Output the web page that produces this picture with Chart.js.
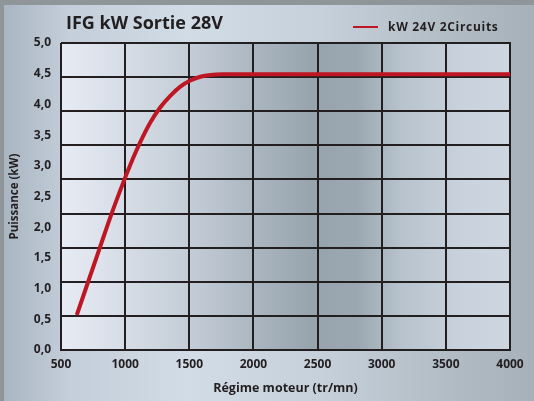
<!DOCTYPE html>
<html>
<head>
<meta charset="utf-8">
<script src="https://cdn.jsdelivr.net/npm/chart.js@4/dist/chart.umd.min.js"></script>
<style>
html,body{margin:0;padding:0;}
body{width:534px;height:401px;overflow:hidden;background:#8f9599;position:relative;}
#panel{position:absolute;left:4px;top:5px;width:530px;height:396px;
background:linear-gradient(90deg,#a9b5c0 0%,#c3ceda 12%,#d2dce6 35%,#c6d0da 60%,#b0bbc4 85%,#a6b1b9 100%);}
canvas{position:absolute;left:0;top:0;}
</style>
</head>
<body>
<div id="panel"></div>
<canvas id="c" width="534" height="401"></canvas>
<script>
const titleText = "IFG kW Sortie 28V";
const seriesLabel = "kW 24V 2Circuits";
const rpm = [623, 805, 896, 982, 1039, 1117, 1195, 1273, 1352, 1430, 1508, 1586, 1664, 1766, 2000, 2500, 3000, 3500, 4000];
const power = [0.57, 1.68, 2.23, 2.71, 3.01, 3.38, 3.70, 3.95, 4.14, 4.29, 4.39, 4.45, 4.48, 4.49, 4.49, 4.49, 4.49, 4.49, 4.49];
const xTicks = [500, 1000, 1500, 2000, 2500, 3000, 3500, 4000];
const yTicks = [0, 0.5, 1, 1.5, 2, 2.5, 3, 3.5, 4, 4.5, 5];

const FONT = "'Open Sans', 'DejaVu Sans', sans-serif";
const DARK = "#231f20";
const RED = "#be1622";

const bgPlugin = {
  id: 'plotBg',
  beforeDraw(chart) {
    const {ctx, chartArea: a} = chart;
    const g = ctx.createLinearGradient(a.left, 0, a.right, 0);
    g.addColorStop(0, '#e7ebf3');
    g.addColorStop(0.15, '#d5dce6');
    g.addColorStop(0.3, '#c2cbd5');
    g.addColorStop(0.45, '#a8b3bd');
    g.addColorStop(0.56, '#97a4ad');
    g.addColorStop(0.66, '#9ba8b1');
    g.addColorStop(0.76, '#b8c3cd');
    g.addColorStop(0.9, '#cad3dd');
    g.addColorStop(1, '#cdd6e0');
    ctx.save();
    ctx.fillStyle = g;
    ctx.fillRect(a.left, a.top, a.right - a.left, a.bottom - a.top);
    ctx.restore();
  },
  afterDraw(chart) {
    const ctx = chart.ctx;
    const ds = chart.data.datasets[0];
    ctx.save();
    ctx.fillStyle = DARK;
    ctx.textBaseline = 'middle';
    ctx.textAlign = 'left';
    ctx.font = "bold 18px " + FONT;
    ctx.fillText(titleText, 66, 24);
    ctx.strokeStyle = ds.borderColor;
    ctx.lineWidth = 2;
    ctx.beginPath();
    ctx.moveTo(353, 27);
    ctx.lineTo(378, 27);
    ctx.stroke();
    ctx.font = "bold 12px " + FONT;
    try { ctx.letterSpacing = '0.7px'; } catch (e) {}
    ctx.fillText(ds.label, 388, 28);
    ctx.restore();
  }
};

new Chart(document.getElementById('c'), {
  type: 'line',
  data: {
    datasets: [{
      label: seriesLabel,
      data: rpm.map((r, i) => ({x: r, y: power[i]})),
      borderColor: RED,
      borderWidth: 4,
      pointRadius: 0,
      cubicInterpolationMode: 'monotone',
      fill: false,
      yAxisID: 'y'
    }]
  },
  options: {
    responsive: false,
    animation: false,
    events: [],
    layout: {padding: {top: 43, right: 24, left: 0, bottom: 0}},
    plugins: {legend: {display: false}, title: {display: false}, tooltip: {enabled: false}},
    scales: {
      x: {
        type: 'linear', min: 500, max: 4000,
        afterBuildTicks: s => { s.ticks = xTicks.map(v => ({value: v})); },
        afterFit: s => { s.height = 51; },
        grid: {color: DARK, lineWidth: 2, drawTicks: false},
        border: {display: true, color: DARK, width: 2},
        ticks: {color: DARK, font: {family: FONT, size: 12, weight: 'bold'}, padding: 7, maxRotation: 0, callback: v => String(v)},
        title: {display: true, text: 'Régime moteur (tr/mn)', color: DARK, font: {family: FONT, size: 12.5, weight: 'bold'}, padding: {top: 0, bottom: 5}}
      },
      y: {
        type: 'linear', position: 'left', min: 0, max: 5,
        afterBuildTicks: s => { s.ticks = yTicks.map(v => ({value: v})); },
        afterFit: s => { s.width = 61; },
        grid: {display: false, drawTicks: false},
        border: {display: false},
        ticks: {color: DARK, font: {family: FONT, size: 12, weight: 'bold'}, padding: 10, callback: v => v.toFixed(1).replace('.', ',')},
        title: {display: true, text: 'Puissance (kW)', color: DARK, font: {family: FONT, size: 11.5, weight: 'bold'}, padding: {top: 8, bottom: 0}}
      },
      yg: {
        type: 'linear', position: 'right', min: 0, max: 9,
        ticks: {display: false, stepSize: 1},
        afterFit: s => { s.width = 0; },
        grid: {color: DARK, lineWidth: 2, drawTicks: false},
        border: {display: true, color: DARK, width: 2}
      }
    }
  },
  plugins: [bgPlugin]
});
</script>
</body>
</html>
